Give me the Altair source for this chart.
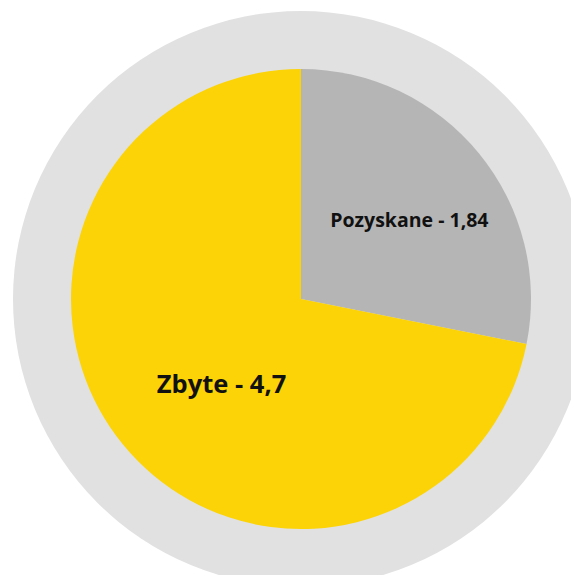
import altair as alt
import pandas as pd

categories = ["Pozyskane", "Zbyte"]
values = [1.84, 4.7]
labels = ["Pozyskane - 1,84", "Zbyte - 4,7"]
colors = ["#B5B5B5", "#FCD307"]

df = pd.DataFrame({"cat": categories, "value": values, "label": labels, "ord": [0, 1]})

CX, CY = 293, 291

bg = alt.Chart(pd.DataFrame({"v": [1]})).mark_arc(
    radius=288, color="#E1E1E1", theta=0, theta2=6.2832
).encode(
    x=alt.value(CX), y=alt.value(CY),
)

base = alt.Chart(df).encode(
    theta=alt.Theta("value:Q", stack=True),
    order=alt.Order("ord:Q"),
    x=alt.value(CX), y=alt.value(CY),
)

pie = base.mark_arc(radius=230).encode(
    color=alt.Color("cat:N", scale=alt.Scale(domain=categories, range=colors), legend=None)
)

t1 = base.mark_text(radius=135, dx=4, dy=8, fontSize=19.5, fontWeight="bold",
                    font="Open Sans", color="#111111").encode(
    text=alt.condition("datum.cat == 'Pozyskane'", alt.Text("label:N"), alt.value(""))
)
t2 = base.mark_text(radius=117, dx=11, dy=12, fontSize=25.5, fontWeight="bold",
                    font="Open Sans", color="#111111").encode(
    text=alt.condition("datum.cat == 'Zbyte'", alt.Text("label:N"), alt.value(""))
)

chart = alt.layer(bg, pie, t1, t2).properties(
    width=563, height=567, padding=0, autosize="none"
).configure_view(stroke=None)

chart.save("out.html", embed_options={"renderer": "svg", "actions": False})
